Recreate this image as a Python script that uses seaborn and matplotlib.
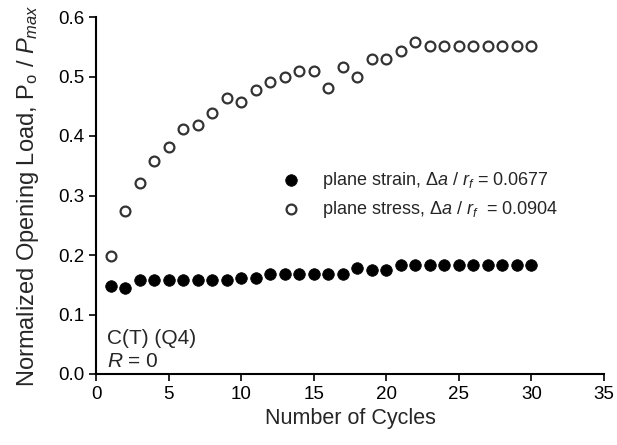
import matplotlib
matplotlib.use("Agg")
import matplotlib.pyplot as plt
import seaborn as sns
import pandas as pd

cycles = list(range(1, 31))
plane_strain = [0.148, 0.145, 0.158, 0.158, 0.158, 0.158, 0.158, 0.158, 0.158, 0.161,
                0.161, 0.168, 0.168, 0.168, 0.168, 0.168, 0.168, 0.178, 0.175, 0.175,
                0.183, 0.183, 0.183, 0.183, 0.183, 0.183, 0.183, 0.183, 0.183, 0.183]
plane_stress = [0.198, 0.274, 0.321, 0.358, 0.381, 0.412, 0.419, 0.439, 0.464, 0.457,
                0.477, 0.491, 0.499, 0.509, 0.510, 0.481, 0.516, 0.499, 0.529, 0.529,
                0.543, 0.558, 0.551, 0.551, 0.551, 0.551, 0.551, 0.551, 0.551, 0.551]
x_ticks = [0, 5, 10, 15, 20, 25, 30, 35]
y_ticks = [0.0, 0.1, 0.2, 0.3, 0.4, 0.5, 0.6]

sns.set_style("ticks")
plt.rcParams['font.family'] = ['Liberation Sans', 'DejaVu Sans']
plt.rcParams['mathtext.fontset'] = 'custom'
plt.rcParams['mathtext.rm'] = 'Liberation Sans'
plt.rcParams['mathtext.it'] = 'Liberation Sans:italic'

df = pd.DataFrame({"cycles": cycles, "strain": plane_strain, "stress": plane_stress})

fig = plt.figure(figsize=(6.17, 4.45), dpi=100)
ax = fig.add_axes([96/617, 1 - 374/445, (604-96)/617, (374-17)/445])

sns.scatterplot(data=df, x="cycles", y="strain", ax=ax, s=70, color="black",
                edgecolor="black", linewidth=0.5,
                label=r"plane strain, $\it{\Delta a}$ / $\it{r_f}$ = 0.0677", zorder=3)
sns.scatterplot(data=df, x="cycles", y="stress", ax=ax, s=50, facecolor="white",
                edgecolor="#333333", linewidth=1.6,
                label=r"plane stress, $\it{\Delta a}$ / $\it{r_f}$  = 0.0904", zorder=3)

ax.set_xlim(0, 35)
ax.set_ylim(0, 0.6)
ax.set_xticks(x_ticks)
ax.set_yticks(y_ticks)
ax.set_yticklabels([f"{v:.1f}" for v in y_ticks])
ax.tick_params(direction="out", length=5, width=1.2, labelsize=13.5, colors="black")
for s in ["left", "bottom"]:
    ax.spines[s].set_linewidth(1.5)
    ax.spines[s].set_color("black")
sns.despine(ax=ax)

ax.set_xlabel("Number of Cycles", fontsize=15.5, labelpad=4)
ax.set_ylabel(r"Normalized Opening Load, P$_\mathrm{o}$ / $P_{max}$", fontsize=17, labelpad=12)

ax.text(0.76, 0.050, "C(T) (Q4)", fontsize=15, ha="left", va="baseline")
ax.text(0.76, 0.012, r"$\it{R}$ = 0", fontsize=15, ha="left", va="baseline")

leg = ax.legend(loc="upper left", bbox_to_anchor=(0.335, 0.592), frameon=False,
                fontsize=13, handletextpad=0.7, labelspacing=0.45, borderaxespad=0)

fig.savefig("out.png", dpi=100)
